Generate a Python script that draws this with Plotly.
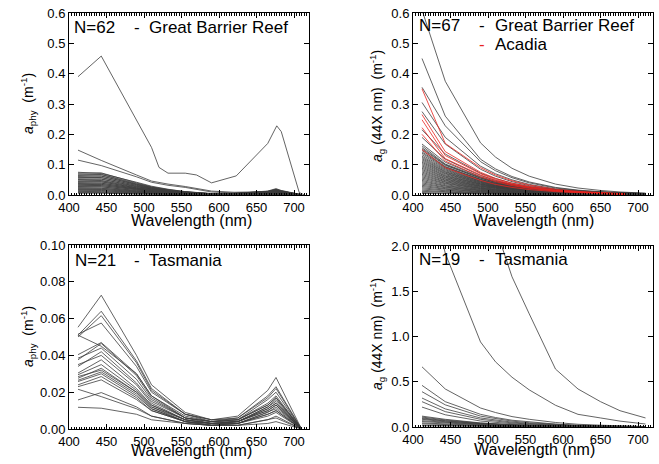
import plotly.graph_objects as go

W, H = 659, 464

# ---------------- DATA ----------------
# Panel 1: a_phy, Great Barrier Reef
wl_gbr_peak = [412, 443, 510, 520, 532, 555, 570, 590, 623, 665, 677, 683, 707, 714]
aphy_gbr_peak = [0.39, 0.458, 0.157, 0.091, 0.072, 0.072, 0.066, 0.040, 0.063, 0.17, 0.228, 0.209, 0.008, 0.0]

wl_aphy_gbr = [412, 443, 490, 510, 532, 555, 590, 620, 665, 676, 683, 710]
aphy_gbr = [
    [0.148, 0.114, 0.066, 0.046, 0.036, 0.028, 0.013, 0.009, 0.011, 0.014, 0.010, 0.000],
    [0.115, 0.097, 0.060, 0.042, 0.032, 0.025, 0.010, 0.007, 0.008, 0.010, 0.008, 0.000],
    [0.075, 0.071, 0.042, 0.029, 0.019, 0.011, 0.005, 0.005, 0.013, 0.021, 0.015, 0.001],
    [0.072, 0.073, 0.040, 0.027, 0.018, 0.011, 0.004, 0.005, 0.012, 0.019, 0.014, 0.000],
    [0.069, 0.068, 0.038, 0.026, 0.017, 0.010, 0.004, 0.005, 0.012, 0.018, 0.013, 0.001],
    [0.066, 0.067, 0.036, 0.025, 0.016, 0.010, 0.004, 0.004, 0.011, 0.018, 0.013, 0.000],
    [0.064, 0.062, 0.035, 0.024, 0.016, 0.009, 0.004, 0.004, 0.011, 0.017, 0.012, 0.000],
    [0.061, 0.063, 0.034, 0.023, 0.015, 0.009, 0.004, 0.004, 0.010, 0.016, 0.012, 0.001],
    [0.058, 0.057, 0.032, 0.022, 0.014, 0.009, 0.003, 0.004, 0.010, 0.016, 0.011, 0.000],
    [0.056, 0.058, 0.031, 0.021, 0.014, 0.008, 0.003, 0.004, 0.009, 0.015, 0.011, 0.000],
    [0.053, 0.052, 0.029, 0.020, 0.013, 0.008, 0.003, 0.004, 0.009, 0.014, 0.010, 0.000],
    [0.051, 0.053, 0.028, 0.019, 0.013, 0.008, 0.003, 0.004, 0.009, 0.014, 0.010, 0.001],
    [0.049, 0.048, 0.027, 0.019, 0.012, 0.007, 0.003, 0.003, 0.008, 0.013, 0.010, 0.000],
    [0.046, 0.047, 0.025, 0.017, 0.012, 0.007, 0.003, 0.003, 0.008, 0.012, 0.009, 0.000],
    [0.044, 0.043, 0.024, 0.017, 0.011, 0.007, 0.003, 0.003, 0.007, 0.012, 0.009, 0.000],
    [0.042, 0.044, 0.023, 0.016, 0.011, 0.006, 0.003, 0.003, 0.007, 0.011, 0.008, 0.000],
    [0.040, 0.039, 0.022, 0.015, 0.010, 0.006, 0.002, 0.003, 0.007, 0.011, 0.008, 0.000],
    [0.038, 0.039, 0.021, 0.014, 0.010, 0.006, 0.002, 0.003, 0.006, 0.010, 0.008, 0.000],
    [0.036, 0.035, 0.020, 0.014, 0.009, 0.005, 0.002, 0.003, 0.006, 0.010, 0.007, 0.000],
    [0.034, 0.035, 0.019, 0.013, 0.009, 0.005, 0.002, 0.002, 0.006, 0.009, 0.007, 0.000],
    [0.032, 0.031, 0.018, 0.012, 0.008, 0.005, 0.002, 0.002, 0.005, 0.009, 0.006, 0.000],
    [0.030, 0.031, 0.017, 0.011, 0.008, 0.005, 0.002, 0.002, 0.005, 0.008, 0.006, 0.000],
    [0.028, 0.027, 0.015, 0.011, 0.007, 0.004, 0.002, 0.002, 0.005, 0.008, 0.006, 0.000],
    [0.026, 0.027, 0.014, 0.010, 0.007, 0.004, 0.002, 0.002, 0.004, 0.007, 0.005, 0.000],
    [0.024, 0.023, 0.013, 0.009, 0.006, 0.004, 0.001, 0.002, 0.004, 0.006, 0.005, 0.000],
    [0.022, 0.022, 0.012, 0.008, 0.006, 0.003, 0.001, 0.002, 0.004, 0.006, 0.004, 0.000],
    [0.020, 0.019, 0.011, 0.008, 0.005, 0.003, 0.001, 0.001, 0.003, 0.005, 0.004, 0.000],
    [0.018, 0.018, 0.010, 0.007, 0.005, 0.003, 0.001, 0.001, 0.003, 0.005, 0.004, 0.000],
    [0.016, 0.015, 0.009, 0.006, 0.004, 0.002, 0.001, 0.001, 0.003, 0.004, 0.003, 0.000],
    [0.014, 0.014, 0.008, 0.005, 0.004, 0.002, 0.001, 0.001, 0.002, 0.004, 0.003, 0.000],
    [0.012, 0.011, 0.007, 0.005, 0.003, 0.002, 0.001, 0.001, 0.002, 0.003, 0.002, 0.000],
    [0.010, 0.010, 0.006, 0.004, 0.003, 0.002, 0.001, 0.001, 0.002, 0.003, 0.002, 0.000],
    [0.008, 0.008, 0.004, 0.003, 0.002, 0.001, 0.000, 0.001, 0.001, 0.002, 0.002, 0.000],
    [0.006, 0.006, 0.003, 0.002, 0.002, 0.001, 0.000, 0.000, 0.001, 0.002, 0.001, 0.000],
]

# Panel 2: a_g, Great Barrier Reef (black) and Acadia (red)
wl_ag = [412, 443, 490, 510, 532, 555, 590, 620, 650, 676, 710]
ag_gbr_high = [
    [0.610, 0.375, 0.172, 0.125, 0.088, 0.062, 0.036, 0.023, 0.015, 0.010, 0.006],
    [0.450, 0.260, 0.118, 0.086, 0.061, 0.043, 0.025, 0.016, 0.011, 0.007, 0.004],
    [0.355, 0.228, 0.110, 0.080, 0.057, 0.040, 0.023, 0.015, 0.010, 0.007, 0.004],
    [0.305, 0.190, 0.095, 0.070, 0.050, 0.035, 0.020, 0.013, 0.009, 0.006, 0.004],
    [0.275, 0.168, 0.085, 0.062, 0.044, 0.031, 0.018, 0.012, 0.008, 0.005, 0.003],
    [0.215, 0.135, 0.072, 0.054, 0.039, 0.028, 0.016, 0.011, 0.007, 0.005, 0.003],
    [0.190, 0.118, 0.064, 0.048, 0.034, 0.025, 0.014, 0.009, 0.006, 0.004, 0.003],
]
wl_ag_band = [412, 443, 490, 510, 555, 620, 676, 710]
ag_gbr_band = [
    [0.168, 0.108, 0.060, 0.045, 0.025, 0.012, 0.007, 0.005],
    [0.162, 0.102, 0.058, 0.043, 0.024, 0.011, 0.007, 0.005],
    [0.156, 0.100, 0.055, 0.042, 0.023, 0.011, 0.006, 0.005],
    [0.152, 0.098, 0.056, 0.041, 0.022, 0.010, 0.006, 0.004],
    [0.147, 0.094, 0.052, 0.039, 0.022, 0.010, 0.006, 0.004],
    [0.142, 0.092, 0.051, 0.038, 0.021, 0.010, 0.006, 0.004],
    [0.138, 0.089, 0.050, 0.037, 0.021, 0.010, 0.006, 0.004],
    [0.133, 0.086, 0.047, 0.036, 0.020, 0.009, 0.005, 0.004],
    [0.128, 0.083, 0.046, 0.035, 0.019, 0.009, 0.005, 0.004],
    [0.124, 0.080, 0.045, 0.033, 0.018, 0.009, 0.005, 0.004],
    [0.120, 0.077, 0.043, 0.032, 0.018, 0.008, 0.005, 0.004],
    [0.116, 0.075, 0.042, 0.031, 0.017, 0.008, 0.005, 0.003],
    [0.112, 0.072, 0.040, 0.030, 0.017, 0.008, 0.005, 0.003],
    [0.108, 0.070, 0.039, 0.029, 0.016, 0.008, 0.004, 0.003],
    [0.104, 0.067, 0.037, 0.028, 0.016, 0.007, 0.004, 0.003],
    [0.100, 0.064, 0.036, 0.027, 0.015, 0.007, 0.004, 0.003],
    [0.096, 0.062, 0.035, 0.026, 0.014, 0.007, 0.004, 0.003],
    [0.092, 0.059, 0.033, 0.025, 0.014, 0.006, 0.004, 0.003],
    [0.088, 0.057, 0.032, 0.024, 0.013, 0.006, 0.004, 0.003],
    [0.084, 0.054, 0.030, 0.023, 0.013, 0.006, 0.003, 0.003],
    [0.080, 0.052, 0.029, 0.022, 0.012, 0.006, 0.003, 0.002],
    [0.076, 0.049, 0.028, 0.021, 0.011, 0.005, 0.003, 0.002],
    [0.072, 0.047, 0.026, 0.019, 0.011, 0.005, 0.003, 0.002],
    [0.068, 0.044, 0.025, 0.018, 0.010, 0.005, 0.003, 0.002],
    [0.064, 0.042, 0.023, 0.017, 0.010, 0.005, 0.003, 0.002],
    [0.060, 0.039, 0.022, 0.016, 0.009, 0.004, 0.002, 0.002],
    [0.056, 0.037, 0.021, 0.015, 0.009, 0.004, 0.002, 0.002],
    [0.052, 0.034, 0.019, 0.014, 0.008, 0.004, 0.002, 0.002],
    [0.048, 0.031, 0.018, 0.013, 0.007, 0.004, 0.002, 0.001],
    [0.044, 0.029, 0.016, 0.012, 0.007, 0.003, 0.002, 0.001],
    [0.040, 0.026, 0.015, 0.011, 0.006, 0.003, 0.002, 0.001],
    [0.036, 0.024, 0.014, 0.010, 0.006, 0.003, 0.002, 0.001],
    [0.032, 0.021, 0.012, 0.009, 0.005, 0.003, 0.002, 0.001],
    [0.028, 0.019, 0.011, 0.008, 0.005, 0.002, 0.001, 0.001],
    [0.024, 0.016, 0.010, 0.007, 0.004, 0.002, 0.001, 0.001],
    [0.020, 0.014, 0.008, 0.006, 0.004, 0.002, 0.001, 0.001],
    [0.016, 0.011, 0.007, 0.005, 0.003, 0.002, 0.001, 0.001],
    [0.012, 0.009, 0.006, 0.004, 0.003, 0.002, 0.001, 0.001],
    [0.008, 0.006, 0.004, 0.003, 0.002, 0.001, 0.001, 0.000],
    [0.005, 0.004, 0.003, 0.002, 0.002, 0.001, 0.001, 0.000],
]
wl_ag_acadia = [412, 443, 490, 510, 532, 555, 590, 620, 650, 683]
ag_acadia = [
    [0.350, 0.170, 0.090, 0.066, 0.047, 0.033, 0.019, 0.012, 0.008, 0.004],
    [0.265, 0.143, 0.075, 0.055, 0.039, 0.028, 0.016, 0.010, 0.007, 0.003],
    [0.248, 0.130, 0.070, 0.051, 0.036, 0.026, 0.015, 0.009, 0.006, 0.003],
    [0.222, 0.120, 0.066, 0.048, 0.034, 0.024, 0.014, 0.009, 0.006, 0.003],
    [0.200, 0.112, 0.060, 0.044, 0.031, 0.022, 0.013, 0.008, 0.005, 0.002],
    [0.150, 0.090, 0.048, 0.035, 0.025, 0.018, 0.011, 0.007, 0.004, 0.002],
]

# Panel 3: a_phy, Tasmania
wl_aphy_tas = [412, 443, 490, 510, 555, 590, 625, 665, 676, 710]
aphy_tas = [
    [0.0553, 0.0727, 0.040, 0.024, 0.009, 0.005, 0.007, 0.021, 0.028, 0.000],
    [0.0510, 0.0640, 0.037, 0.022, 0.008, 0.005, 0.006, 0.018, 0.023, 0.000],
    [0.0500, 0.0616, 0.036, 0.021, 0.008, 0.004, 0.006, 0.017, 0.022, 0.000],
    [0.0515, 0.0576, 0.034, 0.020, 0.008, 0.005, 0.005, 0.016, 0.020, 0.000],
    [0.0510, 0.0450, 0.030, 0.018, 0.006, 0.004, 0.005, 0.013, 0.017, 0.000],
    [0.0404, 0.0470, 0.030, 0.018, 0.007, 0.004, 0.005, 0.014, 0.018, 0.000],
    [0.0376, 0.0465, 0.029, 0.017, 0.006, 0.004, 0.005, 0.013, 0.017, 0.000],
    [0.0385, 0.0440, 0.027, 0.016, 0.006, 0.004, 0.004, 0.012, 0.016, 0.000],
    [0.0340, 0.0420, 0.025, 0.015, 0.006, 0.003, 0.004, 0.012, 0.015, 0.000],
    [0.0304, 0.0376, 0.022, 0.013, 0.005, 0.003, 0.004, 0.011, 0.014, 0.000],
    [0.0295, 0.0350, 0.021, 0.013, 0.005, 0.003, 0.004, 0.010, 0.013, 0.000],
    [0.0285, 0.0320, 0.020, 0.012, 0.005, 0.003, 0.004, 0.010, 0.013, 0.000],
    [0.0276, 0.0330, 0.020, 0.012, 0.004, 0.003, 0.003, 0.009, 0.012, 0.000],
    [0.0265, 0.0310, 0.019, 0.011, 0.004, 0.003, 0.003, 0.009, 0.011, 0.000],
    [0.0258, 0.0300, 0.018, 0.011, 0.004, 0.002, 0.003, 0.008, 0.010, 0.000],
    [0.0240, 0.0285, 0.017, 0.010, 0.004, 0.002, 0.003, 0.008, 0.010, 0.000],
    [0.0230, 0.0267, 0.016, 0.010, 0.004, 0.002, 0.003, 0.007, 0.009, 0.000],
    [0.0216, 0.0176, 0.011, 0.007, 0.003, 0.002, 0.002, 0.005, 0.007, 0.000],
    [0.0158, 0.0198, 0.012, 0.007, 0.003, 0.002, 0.002, 0.005, 0.006, 0.000],
    [0.0118, 0.0113, 0.008, 0.005, 0.003, 0.002, 0.002, 0.003, 0.004, 0.000],
    [0.0350, 0.0400, 0.024, 0.014, 0.005, 0.003, 0.004, 0.011, 0.014, 0.000],
]

# Panel 4: a_g, Tasmania
ag_tas = [
    [6.000, 4.300, 2.700, 2.200, 1.660, 1.250, 0.640, 0.420, 0.280, 0.180, 0.100],
    [3.000, 1.920, 0.940, 0.720, 0.550, 0.410, 0.240, 0.140, 0.100, 0.065, 0.033],
    [0.665, 0.420, 0.210, 0.160, 0.115, 0.085, 0.050, 0.030, 0.020, 0.012, 0.005],
    [0.460, 0.280, 0.140, 0.105, 0.075, 0.055, 0.032, 0.020, 0.013, 0.008, 0.004],
    [0.390, 0.245, 0.120, 0.090, 0.065, 0.047, 0.027, 0.016, 0.010, 0.006, 0.003],
    [0.320, 0.200, 0.100, 0.075, 0.054, 0.039, 0.022, 0.013, 0.008, 0.005, 0.002],
    [0.280, 0.170, 0.085, 0.063, 0.045, 0.032, 0.018, 0.011, 0.007, 0.004, 0.002],
    [0.220, 0.135, 0.066, 0.050, 0.036, 0.026, 0.015, 0.009, 0.006, 0.003, 0.001],
    [0.120, 0.085, 0.045, 0.034, 0.025, 0.018, 0.011, 0.007, 0.004, 0.003, 0.001],
    [0.110, 0.078, 0.042, 0.032, 0.023, 0.017, 0.010, 0.006, 0.004, 0.003, 0.001],
    [0.100, 0.070, 0.037, 0.028, 0.020, 0.015, 0.009, 0.006, 0.004, 0.002, 0.001],
    [0.092, 0.066, 0.036, 0.027, 0.020, 0.014, 0.008, 0.005, 0.003, 0.002, 0.001],
    [0.085, 0.058, 0.031, 0.024, 0.017, 0.012, 0.007, 0.005, 0.003, 0.002, 0.001],
    [0.070, 0.050, 0.027, 0.020, 0.015, 0.011, 0.006, 0.004, 0.003, 0.002, 0.001],
    [0.060, 0.042, 0.023, 0.017, 0.012, 0.009, 0.005, 0.003, 0.002, 0.001, 0.000],
    [0.045, 0.032, 0.018, 0.013, 0.010, 0.007, 0.004, 0.003, 0.002, 0.001, 0.000],
    [0.035, 0.025, 0.014, 0.010, 0.008, 0.006, 0.003, 0.002, 0.001, 0.001, 0.000],
    [0.020, 0.015, 0.009, 0.007, 0.005, 0.004, 0.002, 0.001, 0.001, 0.000, 0.000],
    [0.012, 0.009, 0.006, 0.004, 0.003, 0.002, 0.001, 0.001, 0.000, 0.000, 0.000],
]

x_ticks = [400, 450, 500, 550, 600, 650, 700]
y_ticks_p1 = [0.0, 0.1, 0.2, 0.3, 0.4, 0.5, 0.6]
y_ticks_p2 = [0.0, 0.1, 0.2, 0.3, 0.4, 0.5, 0.6]
y_ticks_p3 = [0.00, 0.02, 0.04, 0.06, 0.08, 0.10]
y_ticks_p4 = [0.0, 0.5, 1.0, 1.5, 2.0]

# ---------------- FIGURE ----------------
FONT = "Liberation Sans, Arial, Helvetica, sans-serif"
LINE_BLACK = "#3c3c3c"
LINE_RED = "#e8231e"
LW = 0.8

fig = go.Figure()


def add_lines(wl, rows, xa, ya, color):
    for r in rows:
        fig.add_trace(go.Scatter(x=wl, y=r, mode="lines",
                                 line=dict(color=color, width=LW),
                                 xaxis=xa, yaxis=ya, showlegend=False,
                                 hoverinfo="skip"))


add_lines(wl_gbr_peak, [aphy_gbr_peak], "x", "y", LINE_BLACK)
add_lines(wl_aphy_gbr, aphy_gbr, "x", "y", LINE_BLACK)
add_lines(wl_ag, ag_gbr_high, "x2", "y2", LINE_BLACK)
add_lines(wl_ag_band, ag_gbr_band, "x2", "y2", LINE_BLACK)
add_lines(wl_ag_acadia, ag_acadia, "x2", "y2", LINE_RED)
add_lines(wl_aphy_tas, aphy_tas, "x3", "y3", LINE_BLACK)
add_lines(wl_ag, ag_tas, "x4", "y4", LINE_BLACK)


def px(x):
    return x / W


def py(y):
    return 1 - y / H


boxes = {
    1: (69, 309, 13, 195),
    2: (413, 653, 13, 195),
    3: (69, 309, 245, 429),
    4: (413, 653, 246, 427),
}

yinfo = {
    1: ([0, 0.6], y_ticks_p1, "0.1f"),
    2: ([0, 0.6], y_ticks_p2, "0.1f"),
    3: ([0, 0.10], y_ticks_p3, "0.2f"),
    4: ([0, 2.0], y_ticks_p4, "0.1f"),
}

layout = dict(
    template="none",
    width=W, height=H,
    margin=dict(l=0, r=0, t=0, b=0, pad=0, autoexpand=False),
    paper_bgcolor="white", plot_bgcolor="white",
    font=dict(family=FONT, color="black", size=13),
    showlegend=False,
)

for i, (x0, x1, y0, y1) in boxes.items():
    sx = "" if i == 1 else str(i)
    yr, yt, fmt = yinfo[i]
    layout["xaxis" + sx] = dict(
        domain=[px(x0), px(x1)], anchor="y" + sx, range=[400, 720],
        tickmode="array", tickvals=x_ticks, ticktext=[str(v) for v in x_ticks],
        ticks="inside", ticklen=5, tickwidth=1, tickcolor="black",
        showline=True, linecolor="black", linewidth=1, mirror="allticks",
        showgrid=False, zeroline=False, automargin=False,
        tickfont=dict(size=13, family=FONT, color="black"),
        minor=dict(dtick=50 / 15, tick0=400, ticks="inside", ticklen=2.5,
                   tickcolor="black", tickwidth=1, showgrid=False),
    )
    layout["yaxis" + sx] = dict(
        domain=[py(y1), py(y0)], anchor="x" + sx, range=yr,
        tickmode="array", tickvals=yt, ticktext=[format(v, fmt) for v in yt],
        ticks="inside", ticklen=5, tickwidth=1, tickcolor="black",
        showline=True, linecolor="black", linewidth=1, mirror="allticks",
        showgrid=False, zeroline=False, automargin=False,
        tickfont=dict(size=13, family=FONT, color="black"),
    )

fig.update_layout(**layout)

ann = []


def text(x, y, s, size=17, color="black", angle=0, xanchor="left"):
    ann.append(dict(x=px(x), y=py(y), xref="paper", yref="paper", text=s,
                    showarrow=False, xanchor=xanchor, yanchor="middle",
                    textangle=angle, font=dict(size=size, color=color, family=FONT)))


# panel labels
text(72, 27, "N=62")
text(132, 27, "-")
text(147, 27, "Great Barrier Reef")
text(417, 26, "N=67")
text(477, 26, "-")
text(493, 26, "Great Barrier Reef")
text(477, 44, "-", color=LINE_RED)
text(493, 44, "Acadia")
text(73, 260, "N=21")
text(132, 260, "-")
text(147, 260, "Tasmania")
text(417, 259, "N=19")
text(477, 259, "-")
text(493, 259, "Tasmania")

# axis titles
for xc, yc in [(191, 220), (533, 220), (191, 450), (534, 449)]:
    text(xc, yc, "Wavelength (nm)", size=16, xanchor="center")

ytitle_phy = "<i>a</i><sub>phy</sub>  (m<sup>-1</sup>)"
ytitle_g = "<i>a</i><sub>g</sub> (44X nm)  (m<sup>-1</sup>)"
text(28, 104, ytitle_phy, size=14, angle=-90, xanchor="center")
text(377, 106, ytitle_g, size=14, angle=-90, xanchor="center")
text(28, 337, ytitle_phy, size=14, angle=-90, xanchor="center")
text(377, 334, ytitle_g, size=14, angle=-90, xanchor="center")

fig.update_layout(annotations=ann)
fig.write_html("out.html", config={"displayModeBar": False},
               post_script="document.body.style.margin='0px';")
